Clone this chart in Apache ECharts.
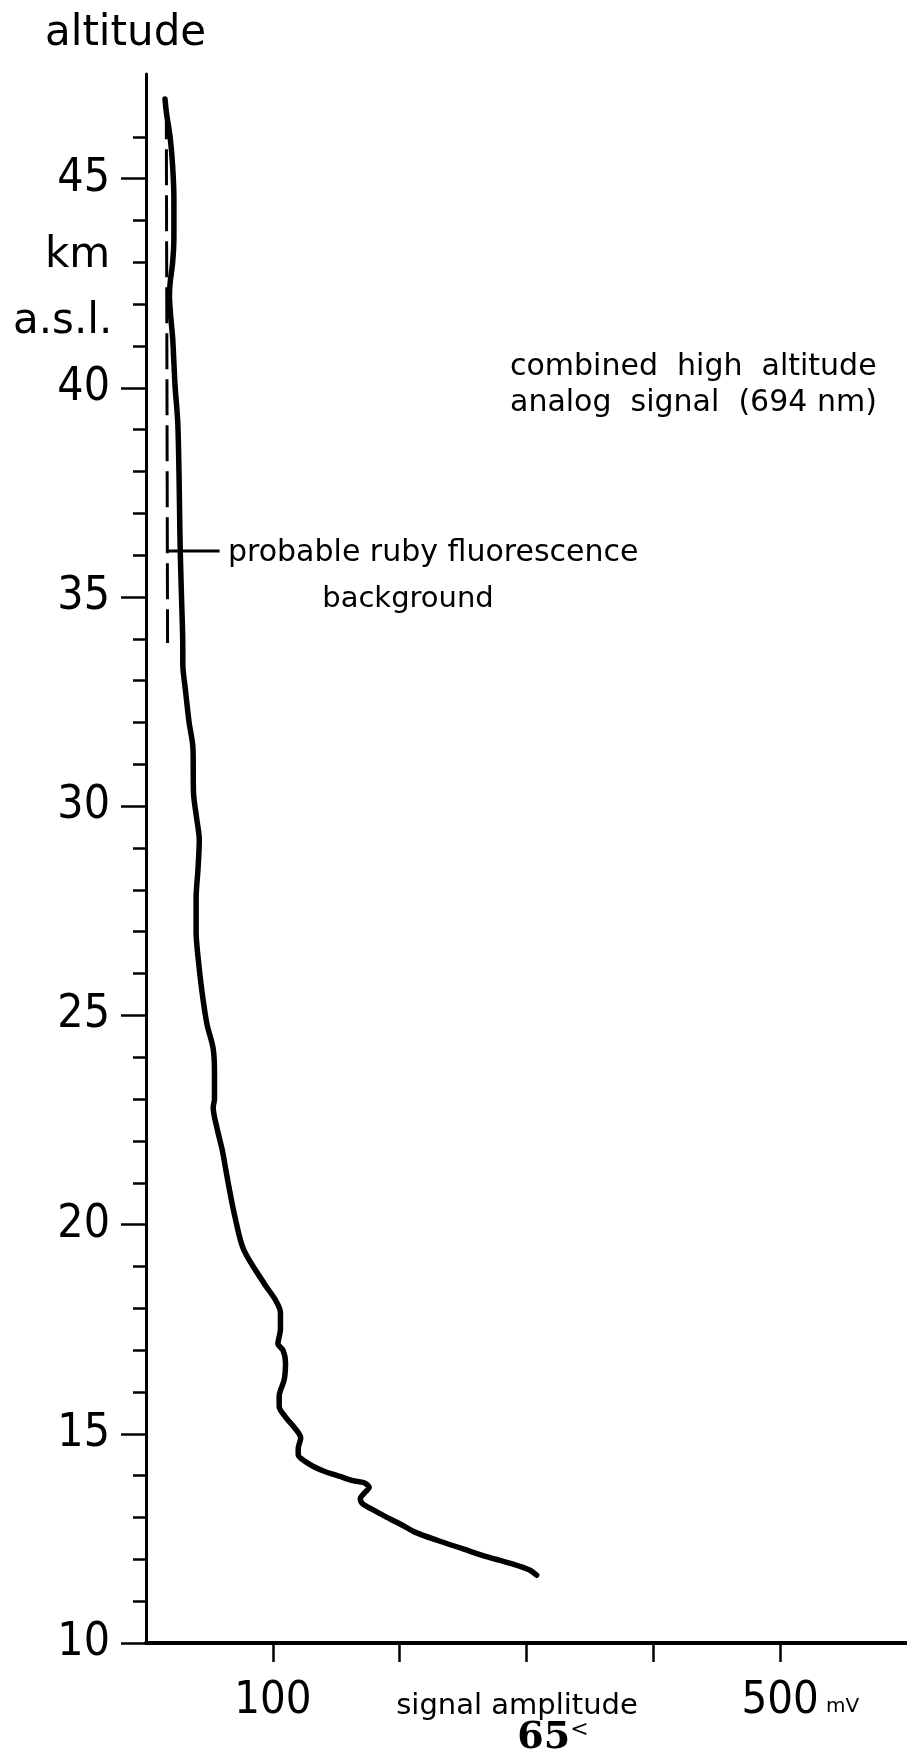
<!DOCTYPE html>
<html>
<head>
<meta charset="utf-8">
<script src="https://cdn.jsdelivr.net/npm/echarts@6/dist/echarts.min.js"></script>
<style>
html,body{margin:0;padding:0;background:#fff;}
#chart{width:907px;height:1754px;}
</style>
</head>
<body>
<div id="chart"></div>
<script>
// ---- data (signal amplitude in mV, altitude in km a.s.l.) ----
const signalMv = [15,16,19,21,22,22,21,19,18.5,19.5,21,22,23,25,26,26.5,27,28,29,29,31,34,37,37.5,40,42,41,39.5,39.5,41,44,48,53,54,54,53,56,60,63,66,70,77,93,102,106,106,104,108,110,109,105,105,110,117,122,120,120,125,132,141,153,163,172,176,172,169,171,178,187,200,212,230,250,270,290,302,308];
const altitudeKm = [46.9,46.6,46.0,45.3,44.5,43.6,43.0,42.5,42.2,41.7,41.2,40.6,40.0,39.2,38.0,37.0,36.1,35.0,33.8,33.4,32.8,32.0,31.4,30.3,29.7,29.2,28.5,27.8,27.0,26.4,25.6,24.8,24.2,23.6,23.0,22.8,22.3,21.8,21.3,20.8,20.2,19.4,18.6,18.2,17.9,17.5,17.15,17.0,16.7,16.3,15.9,15.65,15.4,15.15,14.9,14.65,14.5,14.35,14.22,14.1,13.98,13.88,13.83,13.72,13.58,13.45,13.32,13.2,13.05,12.85,12.65,12.45,12.25,12.05,11.88,11.75,11.62];
const backgroundMv = [16,17];
const backgroundKm = [46.8,33.9];
const leaderMv = [17,58];
const leaderKm = [36.1,36.1];
const yMajorTicks = [10,15,20,25,30,35,40,45];
const yMinorTicks = [11,12,13,14,16,17,18,19,21,22,23,24,26,27,28,29,31,32,33,34,36,37,38,39,41,42,43,44,46];
const xTicks = [100,200,300,400,500];
const xLabels = [100,500];

const zip = (a,b) => a.map((v,i)=>[v,b[i]]);

const chart = echarts.init(document.getElementById('chart'), null, {renderer:'canvas'});
const narrow = '"Liberation Sans Narrow", "DejaVu Sans Condensed", "DejaVu Sans", sans-serif';

const option = {
  backgroundColor:'#fff',
  animation:false,
  grid:{left:146,right:0,top:74,bottom:111,containLabel:false},
  xAxis:{
    type:'value',min:0,max:600,interval:100,
    axisLine:{show:true,lineStyle:{color:'#000',width:4}},
    axisTick:{show:true,length:19,lineStyle:{color:'#000',width:2.5},customValues:xTicks},
    axisLabel:{show:true,customValues:xLabels,margin:36,color:'#000',fontFamily:narrow,fontSize:45},
    splitLine:{show:false}
  },
  yAxis:[{
    type:'value',min:10,max:47.5,interval:5,position:'left',
    axisLine:{show:true,lineStyle:{color:'#000',width:3}},
    axisTick:{show:true,length:25,lineStyle:{color:'#000',width:2.5},customValues:yMajorTicks},
    axisLabel:{show:true,customValues:yMajorTicks,margin:36,color:'#000',fontFamily:narrow,fontSize:46},
    splitLine:{show:false}
  },{
    type:'value',min:10,max:47.5,interval:5,position:'left',offset:0,
    axisLine:{show:false},
    axisTick:{show:true,length:13,lineStyle:{color:'#000',width:2.5},customValues:yMinorTicks},
    axisLabel:{show:false},
    splitLine:{show:false}
  }],
  series:[{
    type:'line',name:'combined',data:zip(signalMv,altitudeKm),
    showSymbol:false,smooth:0.3,
    lineStyle:{color:'#000',width:5.5,cap:'round',join:'round'}
  },{
    type:'line',name:'background',data:zip(backgroundMv,backgroundKm),
    showSymbol:false,
    lineStyle:{color:'#000',width:3,type:[36,10]}
  },{
    type:'line',name:'leader',data:zip(leaderMv,leaderKm),
    showSymbol:false,
    lineStyle:{color:'#000',width:3}
  }],
  graphic:[
    {type:'text',x:45,y:34,style:{text:'altitude',font:'42px "DejaVu Sans"',fill:'#000',align:'left',verticalAlign:'middle'}},
    {type:'text',x:45,y:256,style:{text:'km',font:'42px "DejaVu Sans"',fill:'#000',align:'left',verticalAlign:'middle'}},
    {type:'text',x:13,y:322,style:{text:'a.s.l.',font:'42px "DejaVu Sans"',fill:'#000',align:'left',verticalAlign:'middle'}},
    {type:'text',x:510,y:367,style:{text:'combined  high  altitude',font:'30px "DejaVu Sans"',fill:'#000',align:'left',verticalAlign:'middle'}},
    {type:'text',x:510,y:403,style:{text:'analog  signal  (694 nm)',font:'30px "DejaVu Sans"',fill:'#000',align:'left',verticalAlign:'middle'}},
    {type:'text',x:228,y:553,style:{text:'probable ruby fluorescence',font:'30px "DejaVu Sans"',fill:'#000',align:'left',verticalAlign:'middle'}},
    {type:'text',x:408,y:599,style:{text:'background',font:'29px "DejaVu Sans"',fill:'#000',align:'center',verticalAlign:'middle'}},
    {type:'text',x:517,y:1706,style:{text:'signal amplitude',font:'29px "DejaVu Sans"',fill:'#000',align:'center',verticalAlign:'middle'}},
    {type:'text',x:826,y:1707,style:{text:'mV',font:'20px "DejaVu Sans"',fill:'#000',align:'left',verticalAlign:'middle'}},
    {type:'text',x:553,y:1738,style:{text:'{a|65}{b|<}',fill:'#000',align:'center',verticalAlign:'middle',
      rich:{a:{font:'bold 38px "DejaVu Serif"',fill:'#000'},b:{font:'22px "DejaVu Serif"',fill:'#000',verticalAlign:'top',padding:[0,0,14,0]}}}}
  ]
};
chart.setOption(option);
</script>
</body>
</html>
